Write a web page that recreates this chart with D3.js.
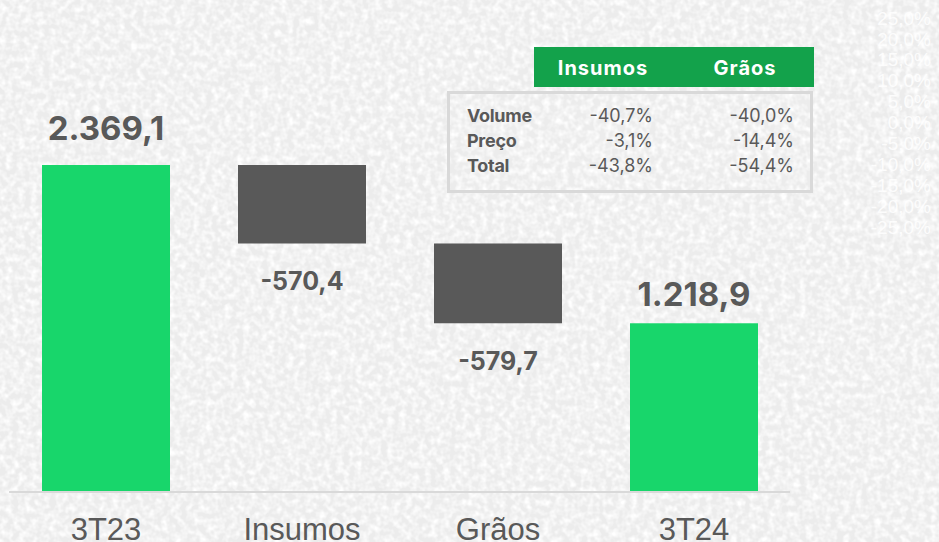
<!DOCTYPE html>
<html>
<head>
<meta charset="utf-8">
<script src="https://cdn.jsdelivr.net/npm/d3@7"></script>
<style>
  html, body { margin: 0; padding: 0; background: #efefef; }
  svg { display: block; }
</style>
</head>
<body>
<svg id="chart"></svg>
<script>
// Data.
const categories = ['3T23', 'Insumos', 'Grãos', '3T24'];
const values = [2369.1, -570.4, -579.7, 1218.9];
const kinds = ['total', 'delta', 'delta', 'total'];

const tableCols = ['Insumos', 'Grãos'];
const tableRows = ['Volume', 'Preço', 'Total'];
const insumosPct = ['-40,7%', '-3,1%', '-43,8%'];
const graosPct = ['-40,0%', '-14,4%', '-54,4%'];

const hiddenAxis = ['25,0%', '20,0%', '15,0%', '10,0%', '5,0%', '0,0%', '-5,0%', '-10,0%', '-15,0%', '-20,0%', '-25,0%'];

// Set up.
const width = 939;
const height = 542;
const grey = '#595959';
const green = '#18d66b';

const svg = d3.select('#chart')
  .attr('width', width)
  .attr('height', height);

// Textured background.
const defs = svg.append('defs');
const filter = defs.append('filter')
  .attr('id', 'paper')
  .attr('x', 0).attr('y', 0)
  .attr('width', '100%').attr('height', '100%');
filter.append('feTurbulence')
  .attr('type', 'fractalNoise')
  .attr('baseFrequency', 0.16)
  .attr('numOctaves', 2)
  .attr('seed', 3);
filter.append('feColorMatrix')
  .attr('type', 'matrix')
  .attr('values', '0 0 0 0 1  0 0 0 0 1  0 0 0 0 1  2.2 0 0 0 -0.8');

svg.append('rect')
  .attr('width', width).attr('height', height)
  .attr('fill', '#ececec');
svg.append('rect')
  .attr('width', width).attr('height', height)
  .attr('filter', 'url(#paper)');

// Faint secondary axis on the right.
svg.append('g')
  .selectAll('text')
  .data(hiddenAxis)
  .join('text')
  .attr('x', 931)
  .attr('y', (d, i) => 18 + i * 20.9)
  .attr('dy', '0.35em')
  .attr('text-anchor', 'end')
  .attr('font-family', '"Liberation Sans", Arial, sans-serif')
  .attr('font-size', 19)
  .attr('fill', '#ffffff')
  .attr('fill-opacity', 0.85)
  .text(d => d);

// Waterfall prep.
let running = 0;
const bars = values.map((v, i) => {
  let start, end;
  if (kinds[i] === 'total') {
    start = 0;
    end = v;
    running = v;
  } else {
    start = running;
    end = running + v;
    running = end;
  }
  return { cat: categories[i], value: v, kind: kinds[i], start, end };
});

// Scales.
const x = d3.scaleBand()
  .domain(categories)
  .range([8, 792])
  .paddingInner(0.347)
  .paddingOuter(0.1735);

const y = d3.scaleLinear()
  .domain([0, d3.max(values)])
  .range([491, 165]);

// Bars.
svg.append('g')
  .selectAll('rect')
  .data(bars)
  .join('rect')
  .attr('x', d => x(d.cat))
  .attr('width', x.bandwidth())
  .attr('y', d => y(Math.max(d.start, d.end)))
  .attr('height', d => Math.abs(y(d.start) - y(d.end)))
  .attr('fill', d => d.kind === 'total' ? green : grey);

// Baseline.
svg.append('line')
  .attr('x1', 9).attr('x2', 790)
  .attr('y1', y(0) + 1).attr('y2', y(0) + 1)
  .attr('stroke', '#d9d9d9')
  .attr('stroke-width', 2);

// Value labels.
const fmt = d3.formatLocale({ decimal: ',', thousands: '.', grouping: [3], currency: ['R$', ''], minus: '-' }).format(',.1f');

svg.append('g')
  .selectAll('text')
  .data(bars)
  .join('text')
  .attr('x', d => x(d.cat) + x.bandwidth() / 2)
  .attr('y', (d, i) => d.kind === 'total'
    ? y(d.end) - (i === 0 ? 25 : 17)
    : y(d.end) + 47)
  .attr('text-anchor', 'middle')
  .attr('font-family', 'Inter, "Open Sans", sans-serif')
  .attr('font-weight', 700)
  .attr('font-size', d => d.kind === 'total' ? 33 : 25)
  .attr('fill', grey)
  .text(d => fmt(d.value));

// Category axis.
const xAxis = svg.append('g')
  .attr('transform', `translate(0,${y(0)})`)
  .call(d3.axisBottom(x).tickSize(0).tickPadding(27));
xAxis.select('.domain').remove();
xAxis.selectAll('text')
  .attr('font-family', '"Liberation Sans", Arial, sans-serif')
  .attr('font-size', 31)
  .attr('fill', grey);

// Table.
const table = svg.append('g');
table.append('rect')
  .attr('x', 534).attr('y', 47)
  .attr('width', 280).attr('height', 40)
  .attr('fill', '#13a24b');

const colX = [603, 745];
table.selectAll('.head')
  .data(tableCols)
  .join('text')
  .attr('class', 'head')
  .attr('x', (d, i) => colX[i])
  .attr('y', 75)
  .attr('text-anchor', 'middle')
  .attr('font-family', 'Inter, "Open Sans", sans-serif')
  .attr('font-weight', 700)
  .attr('font-size', 20)
  .attr('letter-spacing', 1)
  .attr('fill', '#ffffff')
  .text(d => d);

table.append('rect')
  .attr('x', 448.5).attr('y', 92.5)
  .attr('width', 363).attr('height', 99)
  .attr('fill', 'none')
  .attr('stroke', '#d9d9d9')
  .attr('stroke-width', 3);

const rowY = i => 122 + i * 25;
table.selectAll('.rowlab')
  .data(tableRows)
  .join('text')
  .attr('class', 'rowlab')
  .attr('x', 467)
  .attr('y', (d, i) => rowY(i))
  .attr('font-family', 'Inter, "Open Sans", sans-serif')
  .attr('font-weight', 700)
  .attr('font-size', 18)
  .attr('letter-spacing', -0.3)
  .attr('fill', grey)
  .text(d => d);

[[insumosPct, 653], [graosPct, 794]].forEach(([col, xr]) => {
  table.append('g')
    .selectAll('text')
    .data(col)
    .join('text')
    .attr('x', xr)
    .attr('y', (d, i) => rowY(i))
    .attr('text-anchor', 'end')
    .attr('font-family', 'Inter, "Open Sans", sans-serif')
    .attr('font-size', 18)
    .attr('fill', grey)
    .text(d => d);
});
</script>
</body>
</html>
